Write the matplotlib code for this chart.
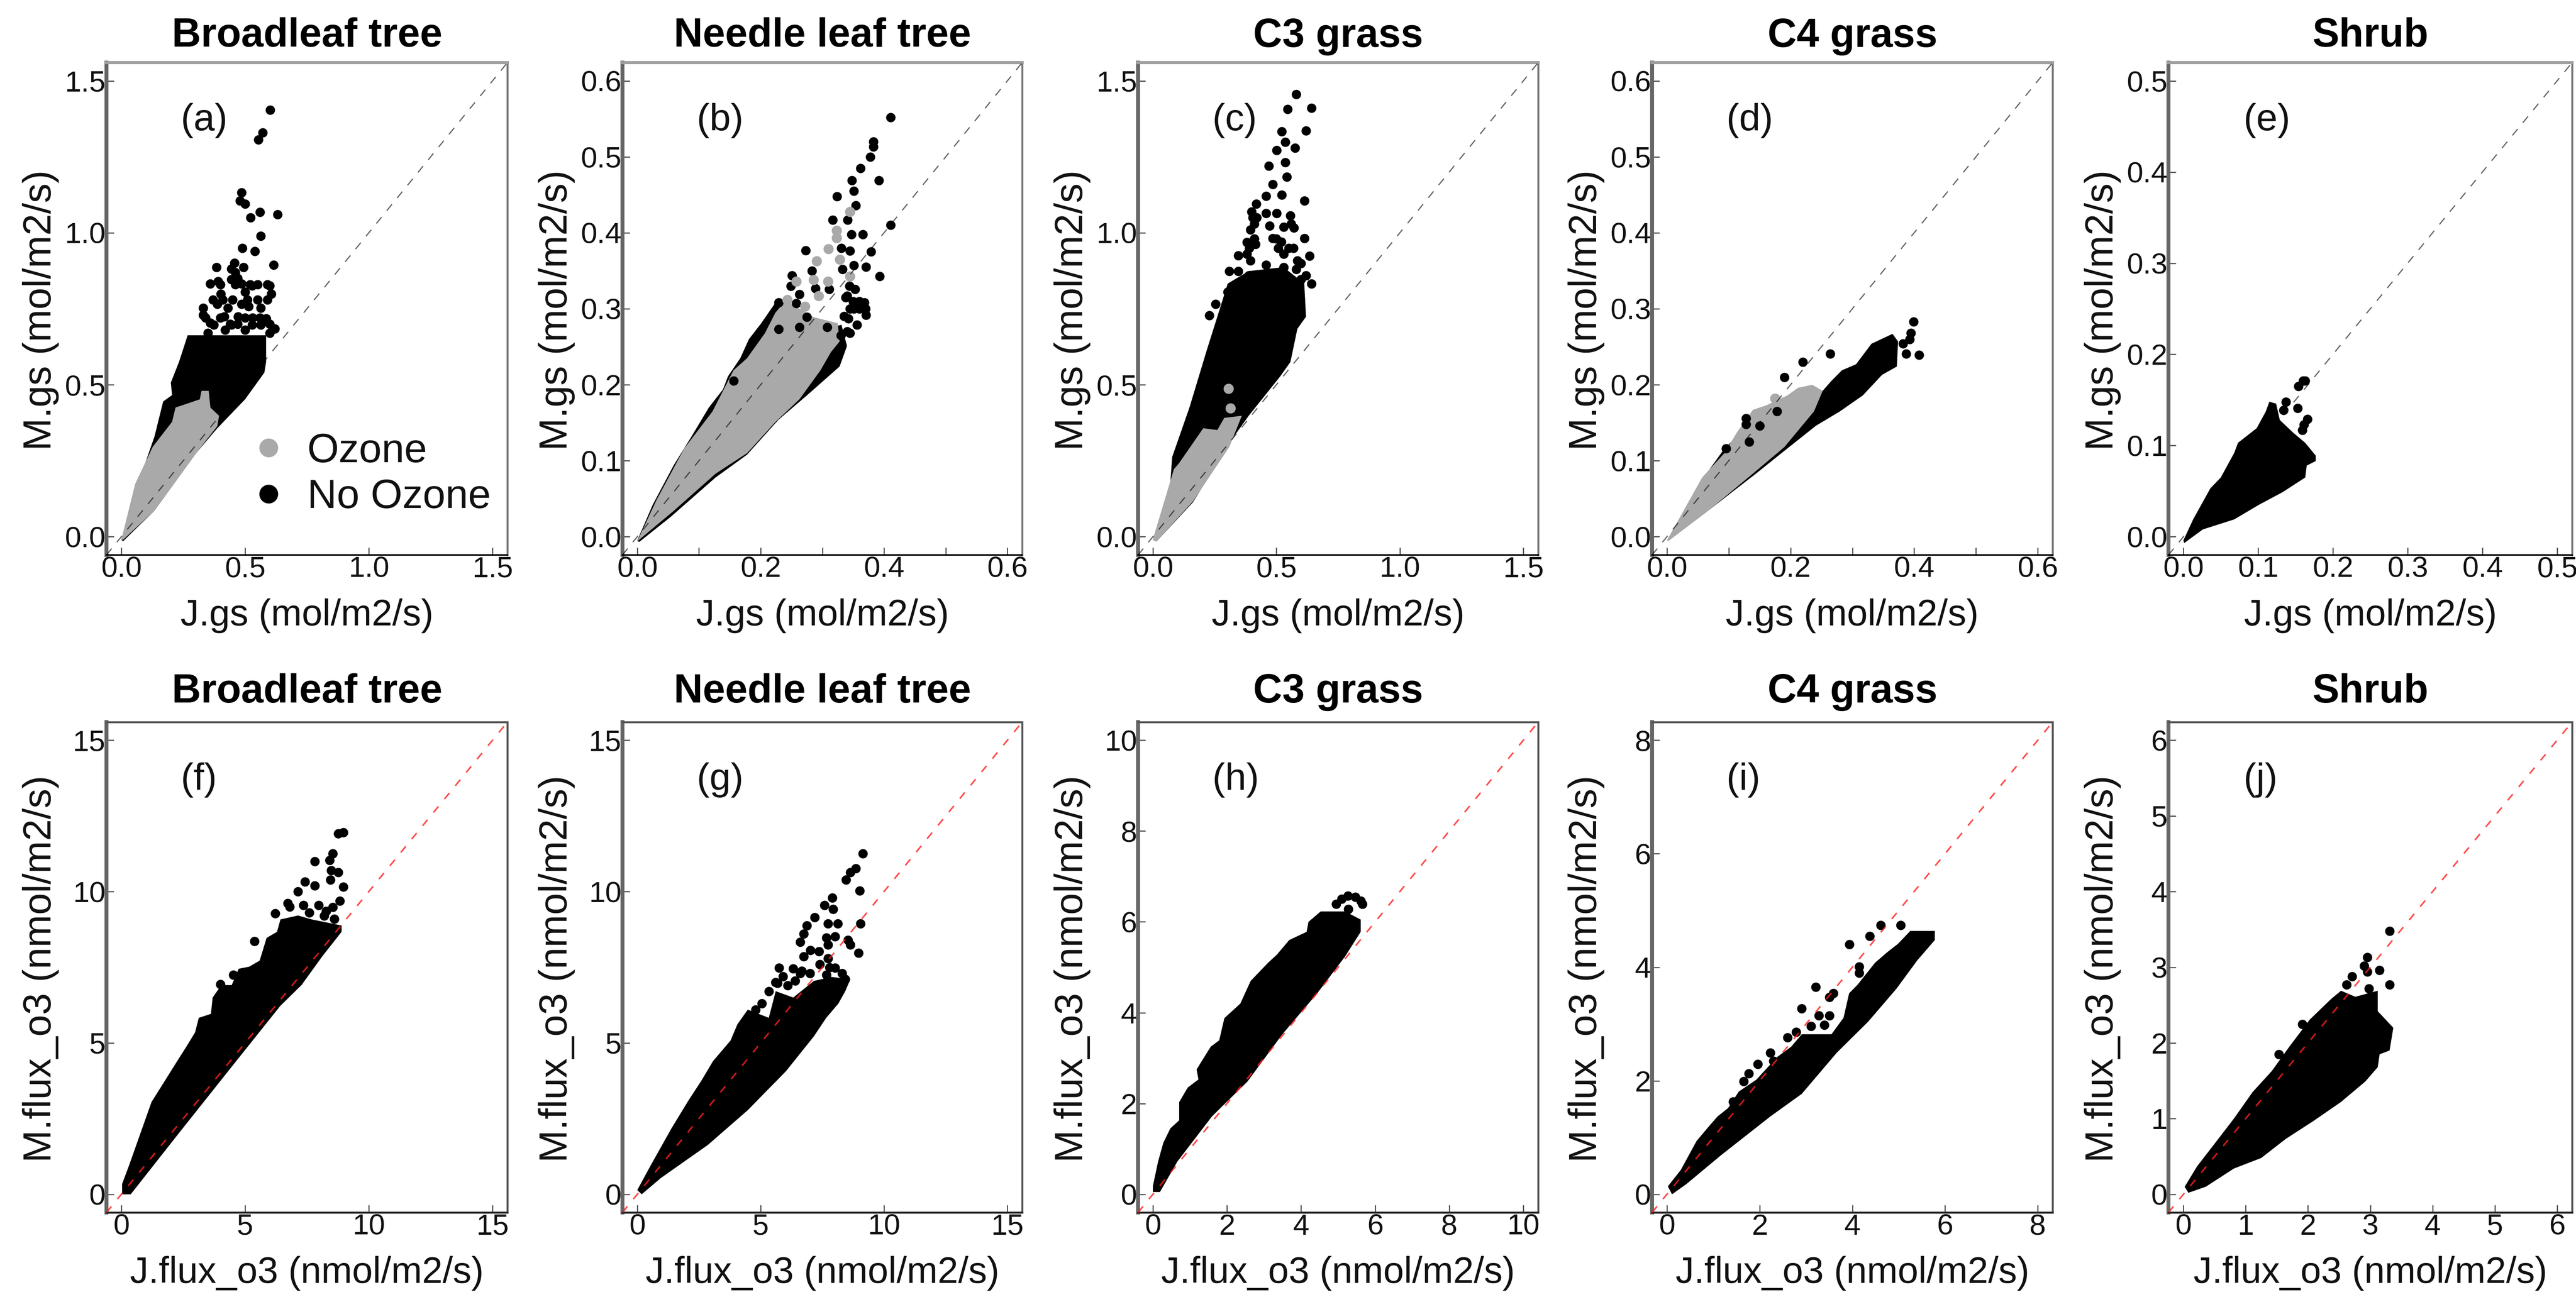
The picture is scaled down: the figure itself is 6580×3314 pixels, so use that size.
import matplotlib
matplotlib.use("Agg")
import matplotlib.pyplot as plt
from matplotlib.lines import Line2D

plt.rcParams['font.family'] = ['Liberation Sans', 'DejaVu Sans']

W, H = 6580, 3314
TITLES = ["Broadleaf tree", "Needle leaf tree", "C3 grass", "C4 grass", "Shrub"]
LETTERS = ["(a)", "(b)", "(c)", "(d)", "(e)", "(f)", "(g)", "(h)", "(i)", "(j)"]
XLABEL_TOP, YLABEL_TOP = "J.gs (mol/m2/s)", "M.gs (mol/m2/s)"
XLABEL_BOT, YLABEL_BOT = "J.flux_o3 (nmol/m2/s)", "M.flux_o3 (nmol/m2/s)"
LEGEND_LABELS = ["Ozone", "No Ozone"]

# axis maxima per panel and tick labels
AX_MAX = [1.5, 0.6, 1.5, 0.6, 0.5, 15, 15, 10, 8, 6]
T_15 = [0.0, 0.5, 1.0, 1.5]
T_06 = [0.0, 0.1, 0.2, 0.3, 0.4, 0.5, 0.6]
T_05 = [0.0, 0.1, 0.2, 0.3, 0.4, 0.5]
T_F15 = [0, 5, 10, 15]
T_F10 = [0, 2, 4, 6, 8, 10]
T_F8 = [0, 2, 4, 6, 8]
T_F6 = [0, 1, 2, 3, 4, 5, 6]
TICKS = [T_15, T_06, T_15, T_06, T_05, T_F15, T_F15, T_F10, T_F8, T_F6]

# ---- (a) ----
A_BLACK_X = [0.0, .07, .134, .169, .205, .2, .233, .268, .585, .585, .578, .5, .388, .303, .134, .007]
A_BLACK_Y = [-.01, .18, .33, .445, .466, .507, .575, .663, .663, .575, .54, .452, .357, .276, .086, -.015]
A_GRAY_X = [0.0, .056, .127, .205, .219, .317, .324, .353, .36, .395, .388, .303, .134, .007]
A_GRAY_Y = [-.01, .174, .296, .378, .425, .452, .48, .48, .425, .398, .364, .276, .086, -.01]
A_PTS_X = [.602, .571, .554, .486, .479, .5, .56, .632, .522, .564, .489, .539, .616, .385, .458, .494, .444, .36, .391, .444, .486, .529, .599, .606, .402, .5, .331, .388, .43, .486, .515, .564, .36, .416, .472, .585, .62, .564, .374, .444, .529,
           .34, .4, .44, .47, .5, .53, .56, .6, .37, .41, .45, .51, .55, .59, .4, .46, .55, .59, .46, .47, .52, .35, .33, .42, .5, .6]
A_PTS_Y = [1.404, 1.329, 1.306, 1.132, 1.105, 1.095, 1.068, 1.06, 1.05, .989, .949, .939, .894, .887, .901, .887, .881, .833, .84, .847, .833, .826, .826, .799, .799, .806, .752, .765, .752, .765, .758, .752, .704, .724, .724, .718, .684, .697, .697, .697, .697,
           .72, .72, .7, .7, .72, .72, .72, .7, .78, .78, .78, .78, .78, .78, .83, .83, .83, .83, .87, .85, .83, .67, .73, .68, .68, .67]
A_GPTS_X, A_GPTS_Y = [], []

# ---- (b) ----
B_BLACK_X = [0.0, .025, .059, .088, .116, .139, .147, .167, .181, .201, .229, .246, .303, .331, .34, .328, .275, .229, .178, .127, .054, .003]
B_BLACK_Y = [-.005, .042, .094, .132, .17, .194, .211, .235, .26, .281, .314, .303, .273, .279, .251, .224, .186, .154, .108, .078, .026, -.007]
B_GRAY_X = [0.0, .031, .076, .122, .156, .178, .207, .224, .241, .286, .325, .328, .314, .297, .263, .224, .178, .127, .059, .003]
B_GRAY_Y = [-.006, .048, .116, .165, .219, .235, .268, .295, .311, .289, .281, .257, .243, .219, .181, .151, .11, .083, .034, -.004]
B_PTS_X = [.411, .383, .383, .378, .362, .348, .392, .351, .324, .354, .317, .341, .347, .366, .411, .273, .331, .345, .379, .283, .333, .351, .371, .393, .251, .249, .289, .311, .353, .263, .34, .229, .258, .368, .351, .371, .342, .275, .356, .308, .229, .263, .156, .345,
           .36, .35, .345, .34, .335, .33, .338, .344, .36, .37]
B_PTS_Y = [.552, .52, .513, .5, .485, .469, .469, .455, .448, .436, .417, .417, .398, .398, .41, .377, .38, .376, .375, .35, .352, .357, .355, .343, .344, .33, .327, .326, .326, .319, .317, .308, .307, .308, .3, .292, .287, .289, .279, .276, .273, .276, .205, .268,
           .3, .31, .3, .27, .29, .265, .315, .33, .31, .3]
B_GPTS_X = [.345, .323, .323, .31, .291, .328, .258, .286, .309, .243, .294, .272, .246, .345]
B_GPTS_Y = [.428, .403, .393, .379, .363, .365, .336, .338, .336, .312, .317, .303, .289, .343]

# ---- (c) ----
C_BLACK_X = [0.0, .071, .078, .148, .219, .261, .303, .388, .529, .613, .62, .585, .557, .515, .388, .317, .162, .014]
C_BLACK_Y = [-.01, .181, .262, .425, .616, .724, .833, .874, .887, .833, .724, .684, .575, .527, .398, .317, .113, -.016]
C_GRAY_X = [0.0, .085, .106, .204, .261, .289, .36, .31, .162, .014]
C_GRAY_Y = [-.01, .222, .242, .357, .351, .391, .398, .296, .116, -.016]
C_PTS_X = [.581, .546, .642, .62, .522, .536, .575, .501, .47, .536, .543, .486, .458, .522, .613, .419, .458, .501, .557, .405, .395, .472, .529, .571, .381, .613, .486, .508, .55, .416, .345, .395, .635, .458, .529, .585, .31, .345, .388, .62, .642, .599, .254, .228, .303,
           .42, .41, .39, .38, .5, .52, .53, .57, .6, .58, .41, .4, .56]
C_PTS_Y = [1.456, 1.407, 1.411, 1.336, 1.333, 1.299, 1.279, 1.271, 1.22, 1.231, 1.184, 1.159, 1.121, 1.125, 1.105, 1.095, 1.064, 1.064, 1.057, 1.05, 1.01, 1.023, 1.019, 1.016, .969, .982, .982, .949, .949, .962, .925, .908, .924, .894, .887, .908, .874, .874, .86, .86, .833, .847, .765, .728, .806,
           1.05, .98, .95, .93, .98, .97, .93, .95, .9, .88, 1.03, 1.07, 1.03]
C_GPTS_X = [.306, .314]
C_GPTS_Y = [.487, .423]

# ---- (d) ----
D_BLACK_X = [0.0, .057, .093, .127, .167, .212, .252, .266, .283, .306, .331, .365, .374, .372, .348, .317, .28, .241, .19, .144, .071, .003]
D_BLACK_Y = [-.005, .075, .116, .143, .165, .184, .192, .205, .219, .227, .254, .267, .257, .224, .213, .186, .165, .146, .113, .083, .037, -.005]
D_GRAY_X = [0.0, .057, .093, .113, .139, .161, .195, .212, .235, .252, .238, .19, .139, .071, .003]
D_GRAY_Y = [-.005, .078, .11, .137, .167, .173, .186, .196, .2, .192, .165, .118, .083, .037, -.005]
D_PTS_X = [.399, .395, .393, .387, .408, .382, .264, .22, .19, .128, .128, .096, .178, .15, .133]
D_PTS_Y = [.283, .268, .26, .241, .239, .254, .241, .23, .21, .156, .148, .116, .165, .146, .125]
D_GPTS_X = [.175]
D_GPTS_Y = [.182]

# ---- (e) ----
E_BLACK_X = [0.0, .013, .036, .05, .068, .073, .098, .11, .115, .124, .129, .147, .163, .177, .177, .165, .163, .133, .101, .068, .026, .001]
E_BLACK_Y = [-.004, .019, .053, .065, .092, .103, .119, .137, .148, .146, .128, .114, .103, .089, .083, .078, .065, .049, .035, .019, .008, -.007]
E_PTS_X = [.16, .154, .137, .134, .153, .166, .159, .161, .163]
E_PTS_Y = [.171, .165, .148, .139, .141, .129, .117, .123, .171]

# ---- (f) ----
F_BLACK_X = [.03, .31, 1.22, 1.79, 2.21, 2.63, 2.98, 3.13, 3.62, 3.69, 4.04, 4.46, 4.74, 5.17, 5.59, 5.87, 6.29, 6.43, 7.14, 7.7, 8.9, 8.9, 8.12, 7.28, 6.43, 4.32, 2.21, .38, .03]
F_BLACK_Y = [.34, .95, 3.05, 3.79, 4.34, 4.88, 5.35, 5.83, 5.96, 6.5, 6.91, 6.91, 7.45, 7.52, 7.72, 8.47, 8.67, 9.08, 9.21, 9.08, 8.88, 8.67, 7.86, 6.91, 6.23, 4.07, 1.9, 0, 0]
F_PTS_X = [8.76, 8.55, 8.41, 7.81, 8.76, 8.48, 8.45, 8.97, 7.42, 7.81, 7.14, 6.72, 6.22, 5.38, 4.53, 4.01, 8.83, 8.55, 7.98, 7.35, 8.27, 8.97, 6.8, 7.6, 8.2, 8.6]
F_PTS_Y = [11.92, 11.25, 11.04, 11.0, 10.64, 10.7, 10.39, 10.16, 10.32, 10.19, 10.0, 9.62, 9.28, 8.36, 7.25, 6.94, 9.69, 9.49, 9.55, 9.55, 9.35, 11.95, 9.5, 9.3, 9.2, 9.1]

# ---- (g) ----
G_BLACK_X = [0.0, .54, 1.38, 2.09, 2.58, 3.07, 3.78, 4.06, 4.48, 5.33, 5.61, 6.32, 7.16, 7.87, 8.64, 8.43, 8.15, 7.66, 7.16, 6.03, 4.48, 2.86, .96, .18]
G_BLACK_Y = [.14, .95, 2.17, 3.12, 3.73, 4.4, 5.08, 5.62, 6.1, 5.83, 6.71, 6.5, 7.05, 7.18, 7.11, 6.71, 6.3, 5.83, 5.22, 4.07, 2.78, 1.63, .54, 0]
G_PTS_X = [9.14, 8.85, 8.64, 8.46, 9.02, 7.9, 7.59, 7.94, 7.19, 6.88, 6.74, 6.6, 7.73, 8.12, 9.04, 7.66, 8.01, 7.73, 8.54, 8.64, 8.97, 7.02, 7.37, 6.74, 7.73, 8.01, 5.75, 6.32, 6.67, 5.68, 5.33, 5.05, 8.43, 7.66, 6.39, 5.6, 5.9, 6.1, 6.6, 7.0, 7.4, 7.8, 8.3, 4.4, 4.8]
G_PTS_Y = [11.25, 10.77, 10.64, 10.39, 10.03, 9.8, 9.55, 9.42, 9.15, 8.88, 8.6, 8.33, 8.94, 8.94, 8.94, 8.47, 8.51, 8.24, 8.4, 8.24, 7.97, 8.06, 8.02, 7.86, 7.79, 7.48, 7.48, 7.45, 7.38, 6.98, 6.71, 6.3, 7.11, 7.25, 7.05, 7.0, 7.2, 6.9, 7.3, 7.3, 7.6, 7.5, 7.3, 5.7, 6.1]

# ---- (h) ----
H_BLACK_X = [0.0, .14, .28, .47, .71, .71, .94, 1.23, 1.18, 1.56, 1.79, 1.93, 2.36, 2.64, 3.11, 3.35, 3.68, 4.15, 4.2, 4.53, 5.19, 5.61, 5.61, 5.19, 4.43, 3.49, 2.55, 1.6, .66, .19, 0.0]
H_BLACK_Y = [.18, .72, 1.13, 1.45, 1.63, 2.03, 2.35, 2.53, 2.75, 3.25, 3.39, 3.88, 4.2, 4.7, 5.1, 5.28, 5.6, 5.78, 6.0, 6.23, 6.23, 6.05, 5.78, 5.24, 4.42, 3.52, 2.48, 1.72, .72, .05, .05]
H_PTS_X = [4.95, 5.09, 5.26, 5.47, 5.61, 5.66, 5.28]
H_PTS_Y = [6.39, 6.5, 6.57, 6.55, 6.46, 6.39, 6.28]

# ---- (i) ----
I_BLACK_X = [.02, .3, .64, .94, 1.09, 1.32, 1.55, 1.93, 2.38, 2.68, 2.91, 3.55, 3.81, 3.93, 4.11, 4.49, 4.76, 4.98, 5.25, 5.78, 5.78, 5.4, 4.95, 4.34, 3.66, 2.91, 2.23, 1.17, .42, .11]
I_BLACK_Y = [.14, .43, .94, 1.23, 1.37, 1.52, 1.81, 2.02, 2.42, 2.6, 2.82, 2.82, 3.11, 3.54, 3.69, 4.08, 4.27, 4.41, 4.64, 4.64, 4.48, 4.12, 3.62, 3.04, 2.49, 1.77, 1.37, .69, .18, 0]
I_PTS_X = [5.04, 4.61, 4.38, 3.94, 4.15, 4.15, 3.21, 3.59, 3.51, 2.91, 3.28, 3.11, 3.4, 3.51, 2.6, 2.79, 2.23, 2.3, 1.96, 1.77, 1.66, 1.43]
I_PTS_Y = [4.74, 4.74, 4.55, 4.4, 4.01, 3.9, 3.65, 3.54, 3.47, 3.27, 3.15, 2.96, 2.98, 3.15, 2.76, 2.86, 2.49, 2.35, 2.29, 2.13, 1.99, 1.63]

# ---- (j) ----
J_BLACK_X = [.02, .22, .53, .81, 1.11, 1.42, 1.7, 2.03, 2.37, 2.53, 2.76, 3.12, 3.12, 3.37, 3.31, 3.15, 3.12, 2.92, 2.53, 2.09, 1.64, 1.25, .81, .36, .08]
J_BLACK_Y = [.1, .37, .7, 1.0, 1.35, 1.63, 1.95, 2.31, 2.58, 2.69, 2.61, 2.69, 2.42, 2.2, 1.9, 1.85, 1.68, 1.49, 1.22, .97, .73, .48, .34, .1, .02]
J_PTS_X = [3.31, 2.95, 2.9, 2.95, 3.15, 3.31, 2.71, 2.62, 2.98, 1.91, 1.53]
J_PTS_Y = [3.48, 3.13, 3.02, 2.94, 2.96, 2.77, 2.88, 2.77, 2.72, 2.25, 1.85]

BLACK_POLYS = [(A_BLACK_X, A_BLACK_Y), (B_BLACK_X, B_BLACK_Y), (C_BLACK_X, C_BLACK_Y), (D_BLACK_X, D_BLACK_Y), (E_BLACK_X, E_BLACK_Y),
               (F_BLACK_X, F_BLACK_Y), (G_BLACK_X, G_BLACK_Y), (H_BLACK_X, H_BLACK_Y), (I_BLACK_X, I_BLACK_Y), (J_BLACK_X, J_BLACK_Y)]
GRAY_POLYS = [(A_GRAY_X, A_GRAY_Y), (B_GRAY_X, B_GRAY_Y), (C_GRAY_X, C_GRAY_Y), (D_GRAY_X, D_GRAY_Y), None, None, None, None, None, None]
BLACK_PTS = [(A_PTS_X, A_PTS_Y), (B_PTS_X, B_PTS_Y), (C_PTS_X, C_PTS_Y), (D_PTS_X, D_PTS_Y), (E_PTS_X, E_PTS_Y),
             (F_PTS_X, F_PTS_Y), (G_PTS_X, G_PTS_Y), (H_PTS_X, H_PTS_Y), (I_PTS_X, I_PTS_Y), (J_PTS_X, J_PTS_Y)]
GRAY_PTS = [(A_GPTS_X, A_GPTS_Y), (B_GPTS_X, B_GPTS_Y), (C_GPTS_X, C_GPTS_Y), (D_GPTS_X, D_GPTS_Y), None, None, None, None, None, None]

# layout in pixels of the full image
COL_LEFT = [272, 1590, 2907, 4220, 5539]
COL_RIGHT = [1296, 2611, 3929, 5243, 6570]
ROW_TOP = [160, 1845]
ROW_BOTTOM = [1418, 3098]
GRAY = "#a9a9a9"
PX = 0.72

fig = plt.figure(figsize=(W / 100, H / 100), dpi=100, facecolor="white")

for i in range(10):
    row, col = i // 5, i % 5
    l, r, t, b = COL_LEFT[col], COL_RIGHT[col], ROW_TOP[row], ROW_BOTTOM[row]
    ax = fig.add_axes([l / W, 1 - b / H, (r - l) / W, (b - t) / H])
    m = AX_MAX[i]
    lo, hi = -0.04 * m, 1.04 * m
    ax.set_xlim(lo, hi)
    ax.set_ylim(lo, hi)

    ax.fill(*BLACK_POLYS[i], color="black", lw=0, zorder=2)
    if GRAY_POLYS[i]:
        ax.fill(*GRAY_POLYS[i], color=GRAY, lw=0, zorder=3)
    ax.scatter(*BLACK_PTS[i], s=(24 * PX) ** 2, c="black", linewidths=0, zorder=4)
    if GRAY_PTS[i] and GRAY_PTS[i][0]:
        ax.scatter(*GRAY_PTS[i], s=(26 * PX) ** 2, c=GRAY, linewidths=0, zorder=5)

    if row == 0:
        ax.plot([lo, hi], [lo, hi], color="black", alpha=0.6, lw=3 * PX, ls=(0, (7, 7)), zorder=6)
    else:
        ax.plot([lo, hi], [lo, hi], color="#ff2020", alpha=0.8, lw=4 * PX, ls=(0, (5, 6)), zorder=6)

    ticks = TICKS[i]
    ax.set_yticks(ticks)
    ax.set_xticks(ticks)
    fmt = (lambda v: f"{v:.1f}") if row == 0 else (lambda v: f"{v:d}")
    ax.set_yticklabels([fmt(v) for v in ticks])
    skip = m == 0.6
    ax.set_xticklabels(["" if (skip and k % 2) else fmt(v) for k, v in enumerate(ticks)])
    ax.tick_params(axis="both", direction="in", length=19 * PX, width=3 * PX, color="#555555",
                   labelsize=54, labelcolor="#111111")
    ax.tick_params(axis="x", pad=2)
    ax.tick_params(axis="y", pad=2)

    ax.set_title(TITLES[col], fontsize=74, fontweight="bold", pad=0, y=(b - t + (67 if row == 0 else 76)) / (b - t), va="center")
    ax.set_xlabel(XLABEL_TOP if row == 0 else XLABEL_BOT, fontsize=68, va="center", color="#111111")
    ax.xaxis.set_label_coords(0.5, -155 / (b - t))
    ax.set_ylabel(YLABEL_TOP if row == 0 else YLABEL_BOT, fontsize=72, va="center", color="#111111")
    ax.yaxis.set_label_coords(-168 / (r - l), 0.497)
    ax.text(0.186, 0.882, LETTERS[i], transform=ax.transAxes, fontsize=70, va="center", ha="left", color="#111111")

    if row == 0:
        sp = {"top": ("#a0a0a0", 8), "left": ("#666666", 10), "right": ("#777777", 5), "bottom": ("#000000", 4)}
    else:
        sp = {"top": ("#555555", 5), "left": ("#666666", 10), "right": ("#555555", 5), "bottom": ("#222222", 5)}
    for name, (c, w) in sp.items():
        ax.spines[name].set_color(c)
        ax.spines[name].set_linewidth(w * PX)

    if i == 0:
        handles = [Line2D([], [], ls="", marker="o", ms=48 * PX, color=GRAY, mew=0),
                   Line2D([], [], ls="", marker="o", ms=48 * PX, color="black", mew=0)]
        ax.legend(handles, LEGEND_LABELS, loc="center left", bbox_to_anchor=(0.353, 0.163), frameon=False,
                  fontsize=75, labelcolor="#111111", borderpad=0, borderaxespad=0, handlelength=1.0,
                  handletextpad=0.45, labelspacing=0.2)

fig.savefig("out.png", dpi=100, facecolor="white")
